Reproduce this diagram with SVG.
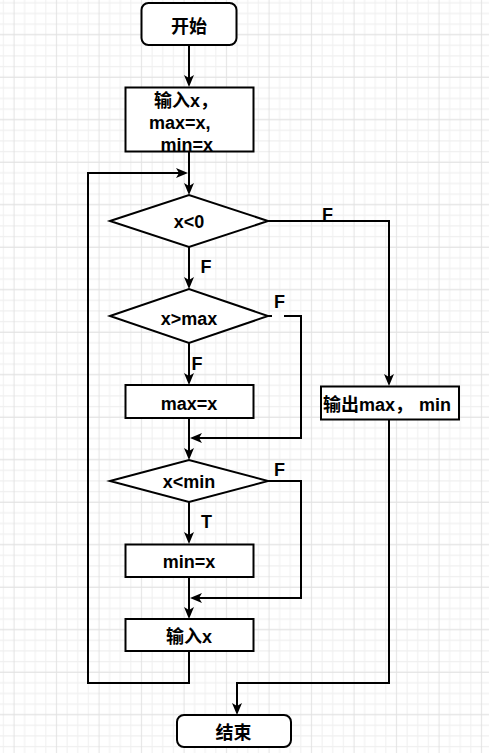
<svg xmlns="http://www.w3.org/2000/svg" width="489" height="753" viewBox="0 0 489 753">
<style>
.box{fill:#fff;stroke:#000;stroke-width:2}
.t{font-family:"Liberation Sans","Noto Sans CJK SC",Arial,sans-serif;font-size:18px;font-weight:bold;fill:#000}
.c{text-anchor:middle}
.e{fill:none;stroke:#000;stroke-width:2}
</style>
<defs>
<pattern id="grid" patternUnits="userSpaceOnUse" x="8.6875" y="29.39" width="42.5" height="42.5">
<path d="M0,15.9375H42.5M0,26.5625H42.5M0,37.1875H42.5M15.9375,0V42.5M26.5625,0V42.5M37.1875,0V42.5" stroke="#f0f0f0" stroke-width="1" fill="none"/>
<path d="M0,5.3125H42.5M5.3125,0V42.5" stroke="#e2e2e2" stroke-width="1" fill="none"/>
</pattern>
<marker id="arr" markerUnits="userSpaceOnUse" viewBox="0 0 12 10" markerWidth="12" markerHeight="10" refX="9" refY="5" orient="auto">
<path d="M12,5L0,0L3,5L0,10Z" fill="#000"/>
</marker>
</defs>
<rect width="489" height="753" fill="#fff"/>
<rect width="489" height="753" fill="url(#grid)"/>

<g id="connectors">
<path class="e" d="M189,45V84" marker-end="url(#arr)"/>
<path class="e" d="M189,152V192" marker-end="url(#arr)"/>
<path class="e" d="M189,651V683H88V173H185" marker-end="url(#arr)"/>
<path class="e" d="M189,247V286" marker-end="url(#arr)"/>
<path class="e" d="M268,316H272M284,316H301V438H193" marker-end="url(#arr)"/>
<path class="e" d="M189,343V382" marker-end="url(#arr)"/>
<path class="e" d="M189,418V457" marker-end="url(#arr)"/>
<path class="e" d="M268,481H301V598H193" marker-end="url(#arr)"/>
<path class="e" d="M189,502V541" marker-end="url(#arr)"/>
<path class="e" d="M189,577V616" marker-end="url(#arr)"/>
<path class="e" d="M268,221H389V383" marker-end="url(#arr)"/>
<path class="e" d="M389,419V683H237V712" marker-end="url(#arr)"/>
<text class="t" x="322" y="220.5">F</text>
<text class="t" x="200.5" y="272.5">F</text>
<text class="t" x="274" y="308">F</text>
<text class="t" x="191.5" y="370">F</text>
<text class="t" x="274" y="476">F</text>
<text class="t" x="201" y="527.5">T</text>
</g>

<g id="start">
<rect class="box" x="141.5" y="3" width="95" height="42" rx="7"/>
<text class="t c" x="189" y="33">开始</text>
</g>

<g id="init">
<rect class="box" x="125.5" y="87.5" width="128" height="64"/>
<text class="t" x="154" y="106.5">输入x，</text>
<text class="t" x="149" y="128.5">max=x,</text>
<text class="t" x="160.5" y="150.5">min=x</text>
</g>

<g id="cond0">
<path class="box" d="M110,221L189,195L268,221L189,247Z"/>
<text class="t c" x="189" y="228">x&lt;0</text>
</g>

<g id="condmax">
<path class="box" d="M110,316L189,289L268,316L189,343Z"/>
<text class="t c" x="189" y="325">x&gt;max</text>
</g>

<g id="setmax">
<rect class="box" x="125.5" y="385" width="128" height="33"/>
<text class="t c" x="189" y="409.5">max=x</text>
</g>

<g id="condmin">
<path class="box" d="M110,481L189,460L268,481L189,502Z"/>
<text class="t c" x="189" y="488">x&lt;min</text>
</g>

<g id="setmin">
<rect class="box" x="125.5" y="544.5" width="128" height="32.5"/>
<text class="t c" x="189" y="568">min=x</text>
</g>

<g id="input">
<rect class="box" x="125.5" y="619" width="128" height="32"/>
<text class="t c" x="189" y="642.5">输入x</text>
</g>

<g id="output">
<rect class="box" x="321" y="386.5" width="138" height="33"/>
<text class="t" x="323" y="410.5">输出max，<tspan dx="6">min</tspan></text>
</g>

<g id="end">
<rect class="box" x="177" y="715" width="114" height="32" rx="7"/>
<text class="t c" x="233.5" y="738.5">结束</text>
</g>
</svg>
